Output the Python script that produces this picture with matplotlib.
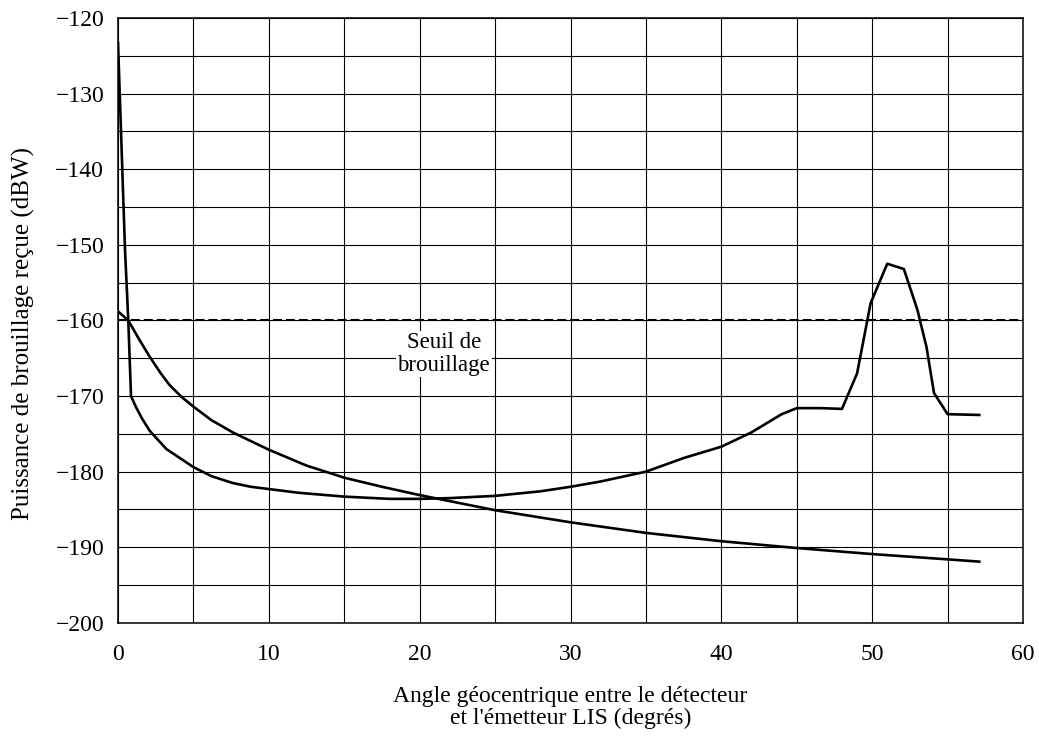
import numpy as np
import matplotlib
matplotlib.use('Agg')
import matplotlib.pyplot as plt

plt.rcParams['font.family'] = ['Liberation Serif', 'DejaVu Serif']

# Courbe au pic vers 51 degres
angle_a = [0.0, 0.46, 0.68, 0.86, 1.2, 1.6, 2.1, 3.2, 5.0, 6.2, 7.6, 8.8, 10.0, 12.0,
           15.0, 18.0, 20.0, 22.0, 25.0, 28.0, 30.0, 32.0, 35.0, 37.5, 40.0, 42.0,
           44.0, 45.0, 46.6, 48.0, 49.0, 49.9, 51.0, 52.1, 53.0, 53.6, 54.1, 55.0, 57.1]
puiss_a = [-123.3, -150.5, -160.0, -170.0, -171.5, -173.0, -174.6, -177.0, -179.4,
           -180.6, -181.5, -182.0, -182.3, -182.8, -183.3, -183.6, -183.6, -183.5,
           -183.2, -182.6, -182.0, -181.3, -180.0, -178.2, -176.7, -174.8, -172.4,
           -171.6, -171.6, -171.7, -167.0, -157.7, -152.5, -153.2, -158.6, -163.5,
           -169.6, -172.4, -172.5]

# Courbe decroissante
angle_b = [0.0, 0.68, 1.4, 2.1, 2.8, 3.4, 4.2, 5.0, 6.2, 7.6, 10.0, 12.5, 15.0, 17.5,
           20.0, 25.0, 30.0, 35.0, 40.0, 45.0, 50.0, 55.0, 57.1]
puiss_b = [-158.8, -160.0, -162.5, -164.8, -166.9, -168.5, -170.1, -171.4, -173.2,
           -174.8, -177.1, -179.2, -180.8, -182.0, -183.1, -185.1, -186.7, -188.1,
           -189.2, -190.1, -190.9, -191.6, -191.9]

seuil = -160.0

fig = plt.figure(figsize=(10.39, 7.38), dpi=100)
ax = fig.add_axes([0.1136, 0.156, 0.871, 0.8196])

ax.plot(angle_a, puiss_a, color='black', lw=1.9, zorder=4)
ax.plot(angle_b, puiss_b, color='black', lw=1.9, zorder=4)
ax.axhline(seuil, color='black', lw=1.5, dashes=(4.3, 1.9), zorder=3)

ax.text(21.6, -164.4, 'Seuil de\nbrouillage', ha='center', va='center',
        fontsize=16.5, linespacing=1.1, zorder=2.5,
        bbox=dict(facecolor='white', edgecolor='none', pad=1))

ax.set_xlim(0, 60)
ax.set_ylim(-200, -120)
ax.set_xticks(np.arange(0, 61, 10))
ax.set_yticks(np.arange(-200, -119, 10))
ax.set_xticks(np.arange(0, 61, 5), minor=True)
ax.set_yticks(np.arange(-200, -119, 5), minor=True)
ax.grid(which='both', color='black', lw=0.8)
ax.set_axisbelow(True)
ax.tick_params(which='both', length=0, labelsize=17)
ax.tick_params(axis='x', pad=15)
ax.tick_params(axis='y', pad=10)
for s in ax.spines.values():
    s.set_linewidth(1.1)

ax.set_xlabel("Angle géocentrique entre le détecteur\net l'émetteur LIS (degrés)",
              fontsize=17, linespacing=1.05, labelpad=15)
ax.set_ylabel('Puissance de brouillage reçue (dBW)', fontsize=18)
ax.yaxis.set_label_coords(-0.092, 0.479)

fig.savefig('out.png', dpi=100)
